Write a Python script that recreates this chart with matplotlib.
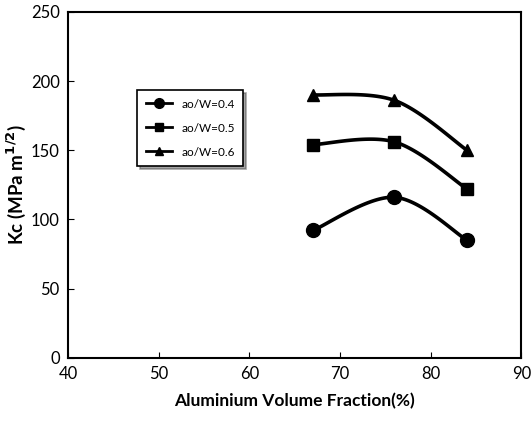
import numpy as np
import matplotlib
matplotlib.use('Agg')
import matplotlib.pyplot as plt

plt.rcParams['font.family'] = ['Lato', 'DejaVu Sans']

# data
volume_fraction = [67, 76, 84]
kc_04 = [92, 116, 85]
kc_05 = [154, 156, 122]
kc_06 = [190, 186, 150]
labels = ['ao/W=0.4', 'ao/W=0.5', 'ao/W=0.6']
markers = ['o', 's', '^']
msizes = [10, 8, 9]


def smooth(x, y, n=40):
    # catmull-rom through the points, ends repeated (like excel smoothed lines)
    x = np.asarray(x, float)
    y = np.asarray(y, float)
    px = np.concatenate([[x[0]], x, [x[-1]]])
    py = np.concatenate([[y[0]], y, [y[-1]]])
    xs, ys = [], []
    t = np.linspace(0, 1, n)
    for i in range(1, len(px) - 2):
        for p, out in ((px, xs), (py, ys)):
            p0, p1, p2, p3 = p[i - 1], p[i], p[i + 1], p[i + 2]
            out.extend(0.5 * (2 * p1 + (-p0 + p2) * t
                              + (2 * p0 - 5 * p1 + 4 * p2 - p3) * t ** 2
                              + (-p0 + 3 * p1 - 3 * p2 + p3) * t ** 3))
    return xs, ys


fig = plt.figure(figsize=(5.32, 4.21), dpi=100)
ax = fig.add_axes([0.128, 0.150, 0.852, 0.822])

for ys, lab, m, ms in zip([kc_04, kc_05, kc_06], labels, markers, msizes):
    sx, sy = smooth(volume_fraction, ys)
    ax.plot(sx, sy, color='black', lw=2.6)
    ax.plot(volume_fraction, ys, ls='none', marker=m, ms=ms, color='black')
    # legend proxy
    ax.plot([], [], color='black', lw=2, marker=m, ms=ms * 0.7, label=lab)

ax.set_xlim(40, 90)
ax.set_ylim(0, 250)
ax.set_xticks(range(40, 91, 10))
ax.set_yticks(range(0, 251, 50))
ax.tick_params(direction='in', length=4, labelsize=12, pad=6)
for s in ax.spines.values():
    s.set_linewidth(1.5)

ax.set_xlabel('Aluminium Volume Fraction(%)', fontsize=12.5, fontweight='bold', labelpad=8)
ax.set_ylabel('Kc (MPa m$^{\\mathbf{1/2}}$)', fontsize=13.5, fontweight='bold', labelpad=2)

leg = ax.legend(loc='upper left', bbox_to_anchor=(0.14, 0.79), fontsize=8.5,
                frameon=True, fancybox=False, shadow=True, edgecolor='black',
                handlelength=2.2, borderpad=0.7, labelspacing=1.1)
leg.get_frame().set_linewidth(1.2)

fig.savefig('out.png', dpi=100)
